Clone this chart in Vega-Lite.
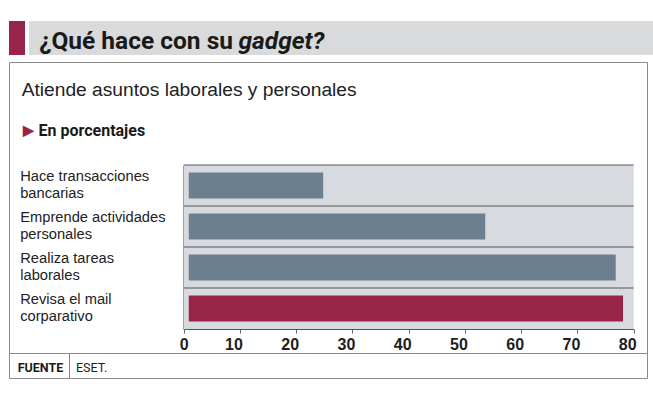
{
  "$schema": "https://vega.github.io/schema/vega-lite/v6.json",
  "background": "white",
  "padding": {"left": 8, "top": 21, "right": 0, "bottom": 0},
  "config": {"view": {"stroke": null}},
  "spacing": 1,
  "vconcat": [
    {
      "spacing": 4,
      "hconcat": [
        {
          "width": 16, "height": 34,
          "view": {"fill": "#98244a", "stroke": null},
          "data": {"values": [{}]},
          "mark": "text",
          "encoding": {"text": {"value": ""}}
        },
        {
          "width": 625, "height": 34,
          "view": {"fill": "#d9dadc", "stroke": null},
          "data": {"values": [{}]},
          "mark": "text",
          "encoding": {
            "text": {"value": ""},
            "x": {"datum": 0, "scale": {"domain": [0, 1]}, "axis": {"orient": "bottom", "domain": false, "ticks": false, "labels": false, "grid": false, "title": "gadget?", "titleFontStyle": "italic", "titleX": 209, "titleY": -6.7, "titleAlign": "left", "titleBaseline": "alphabetic", "titleFont": "Roboto", "titleFontSize": 24.5, "titleFontWeight": "bold", "titleColor": "#1a1a1a"}},
            "y": {"datum": 0, "scale": {"domain": [0, 1]}, "axis": {"orient": "left", "domain": false, "ticks": false, "labels": false, "grid": false, "title": "¿Qué hace con su", "titleAngle": 0, "titleX": 9.7, "titleY": 27.3, "titleAlign": "left", "titleBaseline": "alphabetic", "titleFont": "Roboto", "titleFontSize": 24.5, "titleFontWeight": "bold", "titleColor": "#1a1a1a"}}
          }
        }
      ]
    },
    {
      "bounds": "flush",
      "spacing": 0,
      "vconcat": [
        {
          "width": 638, "height": 291,
          "view": {"fill": "white", "stroke": "#8a8a8a"},
          "title": {"text": "Atiende asuntos laborales y personales", "anchor": "start", "frame": "group", "orient": "top", "offset": -38.5, "dx": 12.7, "font": "Liberation Sans", "fontSize": 19.2, "fontWeight": "normal", "color": "#222222"},
          "data": {"values": [
            {"cat": "Hace transacciones\nbancarias", "pct": 24.8},
            {"cat": "Emprende actividades\npersonales", "pct": 53.6},
            {"cat": "Realiza tareas\nlaborales", "pct": 76.8},
            {"cat": "Revisa el mail\ncorparativo", "pct": 78.1}
          ]},
          "encoding": {
            "y": {"field": "cat", "type": "nominal", "sort": null,
              "scale": {"range": [103, 267], "paddingInner": 0, "paddingOuter": 0},
              "axis": {"orient": "left", "offset": -175.7, "domain": true, "domainColor": "#5d6f80", "domainWidth": 4, "ticks": false, "tickSize": 0, "labelAlign": "left", "labelBaseline": "middle", "labelPadding": 165, "labelOffset": -8.5, "labelFont": "Liberation Sans", "labelFontSize": 14.7, "labelLineHeight": 16.5, "labelColor": "#222222", "labelLimit": 0, "labelExpr": "split(datum.label, '\\n')", "title": "En porcentajes", "titleAngle": 0, "titleX": -146.7, "titleY": 73, "titleAlign": "left", "titleBaseline": "alphabetic", "titleFont": "Roboto", "titleFontSize": 16, "titleFontWeight": "bold", "titleColor": "#1a1a1a"}}
          },
          "layer": [
            {
              "mark": {"type": "bar", "fill": "#d7dadf", "height": {"band": 1}},
              "encoding": {
                "x": {"datum": 0, "type": "quantitative", "scale": {"domain": [0, 80], "range": [174.7, 624.7], "nice": false, "zero": false},
                  "axis": {"orient": "bottom", "offset": -24, "values": [0, 10, 20, 30, 40, 50, 60, 70, 80], "domain": true, "domainColor": "#555555", "domainWidth": 1, "ticks": true, "tickSize": 4, "tickColor": "#666666", "grid": false, "labelFont": "Liberation Sans", "labelFontWeight": "bold", "labelFontSize": 16, "labelColor": "#1e1e1e", "labelPadding": 3, "labelFlush": false, "labelOffset": {"condition": {"test": "datum.value === 0", "value": 0}, "value": -6.5}, "title": "▶", "titleColor": "#98244a", "titleFontSize": 14, "titleX": 13.7, "titleY": -198.5, "titleAlign": "left", "titleBaseline": "middle"}},
                "x2": {"datum": 80}
              }
            },
            {
              "mark": {"type": "rule", "color": "#555555", "strokeWidth": 1},
              "encoding": {
                "x": {"datum": 0, "type": "quantitative",
                  "axis": {"orient": "bottom", "offset": -24, "values": [0, 10, 20, 30, 40, 50, 60, 70, 80], "domain": true, "domainColor": "#555555", "domainWidth": 1, "ticks": true, "tickSize": 4, "tickColor": "#666666", "grid": false, "labelFont": "Liberation Sans", "labelFontWeight": "bold", "labelFontSize": 16, "labelColor": "#1e1e1e", "labelPadding": 3, "labelFlush": false, "labelOffset": {"condition": {"test": "datum.value === 0", "value": 0}, "value": -6.5}, "title": "▶", "titleColor": "#98244a", "titleFontSize": 14, "titleX": 13.7, "titleY": -198.5, "titleAlign": "left", "titleBaseline": "middle"}},
                "x2": {"datum": 80},
                "y": {"field": "cat", "type": "nominal", "sort": null, "bandPosition": 0}
              }
            },
            {
              "mark": {"type": "bar", "height": {"band": 0.64}},
              "encoding": {
                "x": {"field": "pct", "type": "quantitative",
                  "axis": {"orient": "bottom", "offset": -24, "values": [0, 10, 20, 30, 40, 50, 60, 70, 80], "domain": true, "domainColor": "#555555", "domainWidth": 1, "ticks": true, "tickSize": 4, "tickColor": "#666666", "grid": false, "labelFont": "Liberation Sans", "labelFontWeight": "bold", "labelFontSize": 16, "labelColor": "#1e1e1e", "labelPadding": 3, "labelFlush": false, "labelOffset": {"condition": {"test": "datum.value === 0", "value": 0}, "value": -6.5}, "title": "▶", "titleColor": "#98244a", "titleFontSize": 14, "titleX": 13.7, "titleY": -198.5, "titleAlign": "left", "titleBaseline": "middle"}},
                "x2": {"datum": 0.9},
                "color": {"condition": {"test": "indexof(datum.cat, 'Revisa') === 0", "value": "#98244a"}, "value": "#6c7f8f"}
              }
            }
          ]
        },
        {
          "bounds": "flush",
          "spacing": 0,
          "hconcat": [
            {
              "width": 60, "height": 25,
              "view": {"fill": "white", "stroke": "#8a8a8a"},
              "title": {"text": "FUENTE", "anchor": "middle", "frame": "group", "orient": "top", "offset": -21.2, "dx": 1.5, "font": "Roboto", "fontSize": 12.5, "fontWeight": "bold", "color": "#1a1a1a"},
              "data": {"values": [{}]},
              "mark": "text",
              "encoding": {"text": {"value": ""}}
            },
            {
              "width": 578, "height": 25,
              "view": {"fill": "white", "stroke": "#8a8a8a"},
              "title": {"text": "ESET.", "anchor": "start", "frame": "group", "orient": "top", "offset": -21.2, "dx": 7, "font": "Roboto", "fontSize": 12.5, "fontWeight": "normal", "color": "#222222"},
              "data": {"values": [{}]},
              "mark": "text",
              "encoding": {"text": {"value": ""}}
            }
          ]
        }
      ]
    }
  ]
}
